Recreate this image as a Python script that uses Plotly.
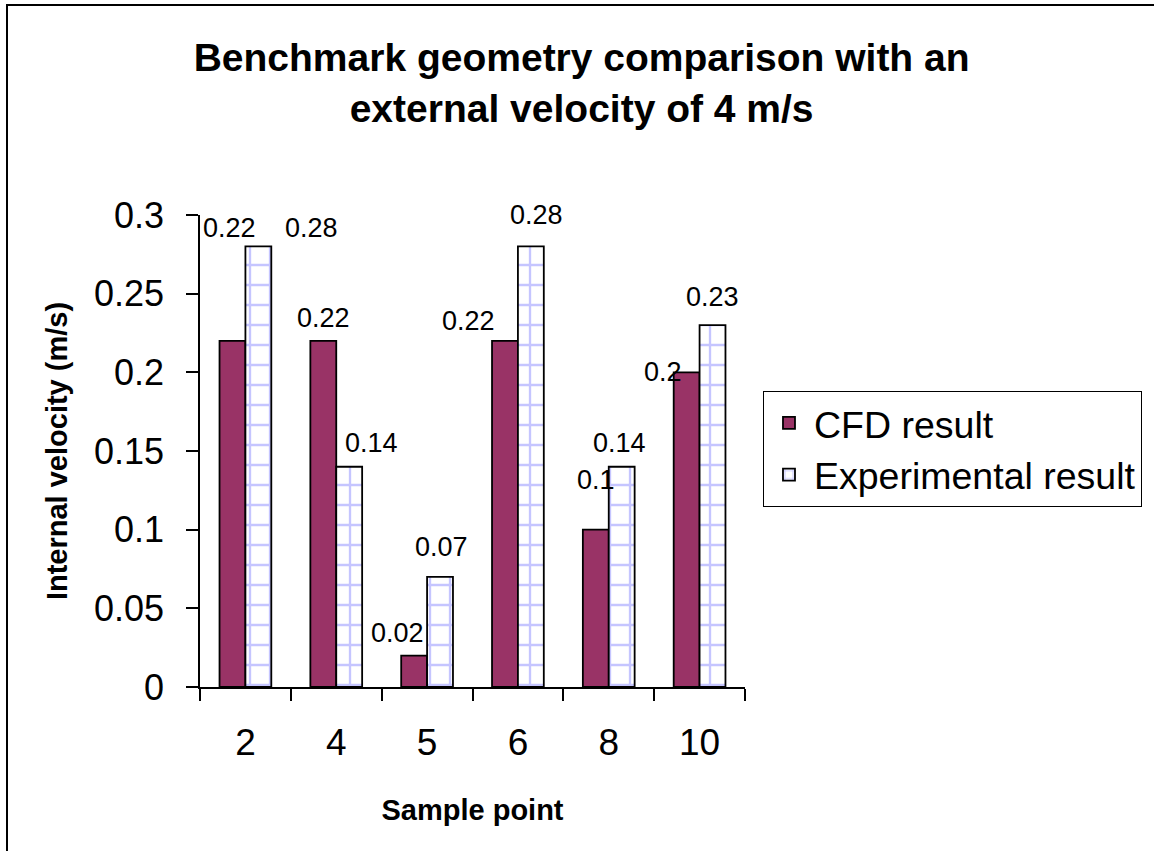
import plotly.graph_objects as go

categories = ["2", "4", "5", "6", "8", "10"]
cfd_values = [0.22, 0.22, 0.02, 0.22, 0.10, 0.20]
exp_values = [0.28, 0.14, 0.07, 0.28, 0.14, 0.23]
cfd_labels = ["0.22", "0.22", "0.02", "0.22", "0.1", "0.2"]
exp_labels = ["0.28", "0.14", "0.07", "0.28", "0.14", "0.23"]
y_tick_values = [0, 0.05, 0.1, 0.15, 0.2, 0.25, 0.3]
y_tick_labels = ["0", "0.05", "0.1", "0.15", "0.2", "0.25", "0.3"]

# label placement tweaks (pixels): (dx, dy-up) relative to a label centred above its bar
cfd_label_offsets = [(-3, 93), (0, 3), (-17, 3), (-36, 0), (0, 30), (-24, -20)]
exp_label_offsets = [(53, -2), (22, 4), (1, 10), (6, 11), (-2, 4), (0, 8)]

FONT = "Liberation Sans, Arial, sans-serif"
BAR_HALF = 13
LABEL_RISE = 20

fig = go.Figure()
fig.add_trace(go.Bar(
    x=categories, y=cfd_values, name="CFD result",
    marker=dict(color="#993366", line=dict(color="black", width=1.8)),
))
fig.add_trace(go.Bar(
    x=categories, y=exp_values, name="Experimental result",
    marker=dict(color="white", line=dict(color="black", width=1.8),
                pattern=dict(shape="+", fgcolor="#8c8cff", bgcolor="white",
                             size=20, solidity=0.22)),
))

annotations = []
for i, (val, lab, (dx, dy)) in enumerate(zip(cfd_values, cfd_labels, cfd_label_offsets)):
    annotations.append(dict(x=i, y=val, xref="x", yref="y", text=lab, showarrow=False,
                            xanchor="center", yanchor="middle",
                            xshift=-BAR_HALF + dx, yshift=LABEL_RISE + dy,
                            font=dict(size=27, family=FONT, color="black")))
for i, (val, lab, (dx, dy)) in enumerate(zip(exp_values, exp_labels, exp_label_offsets)):
    annotations.append(dict(x=i, y=val, xref="x", yref="y", text=lab, showarrow=False,
                            xanchor="center", yanchor="middle",
                            xshift=BAR_HALF + dx, yshift=LABEL_RISE + dy,
                            font=dict(size=27, family=FONT, color="black")))

fig.update_layout(
    width=1154, height=851,
    paper_bgcolor="white", plot_bgcolor="white",
    font=dict(family=FONT, color="black"),
    barmode="group", bargap=0.43, bargroupgap=0,
    margin=dict(l=200, r=409, t=215, b=164),
    title=dict(text="<b>Benchmark geometry comparison with an<br>external velocity of 4 m/s</b>",
               x=0.504, xanchor="center", y=1 - 71 / 851, yanchor="middle",
               font=dict(size=39, family=FONT, color="black")),
    legend=dict(x=1.033, y=0.627, xanchor="left", yanchor="top",
                bordercolor="black", borderwidth=1, bgcolor="white",
                font=dict(size=37.5, family=FONT, color="black"),
                itemwidth=40, tracegroupgap=0),
    showlegend=True,
    annotations=annotations,
)
fig.update_xaxes(
    type="category", range=[-0.5, len(categories) - 0.5],
    showline=True, linecolor="black", linewidth=1.5,
    ticks="outside", tickson="boundaries", ticklen=12, tickcolor="black", tickwidth=1.5,
    tickfont=dict(size=37, family=FONT), showgrid=False, ticklabelstandoff=22,
    tickangle=0,
    title=dict(text="<b>Sample point</b>", font=dict(size=29, family=FONT), standoff=38),
)
fig.update_yaxes(
    range=[0, 0.3], tickvals=y_tick_values, ticktext=y_tick_labels,
    showline=True, linecolor="black", linewidth=1.5,
    ticks="outside", ticklen=12, tickcolor="black", tickwidth=1.5,
    tickfont=dict(size=36, family=FONT), showgrid=False, zeroline=False,
    ticklabelstandoff=15,
    title=dict(text="<b>Internal velocity (m/s)</b>", font=dict(size=29, family=FONT), standoff=18),
)
fig.add_shape(type="rect", xref="paper", yref="paper",
              x0=(7 - 200) / 545, x1=(1170 - 200) / 545,
              y0=(687 - 870) / 472, y1=(687 - 5) / 472,
              line=dict(color="black", width=2), fillcolor="rgba(0,0,0,0)", layer="below")

fig.write_html("out.html")
